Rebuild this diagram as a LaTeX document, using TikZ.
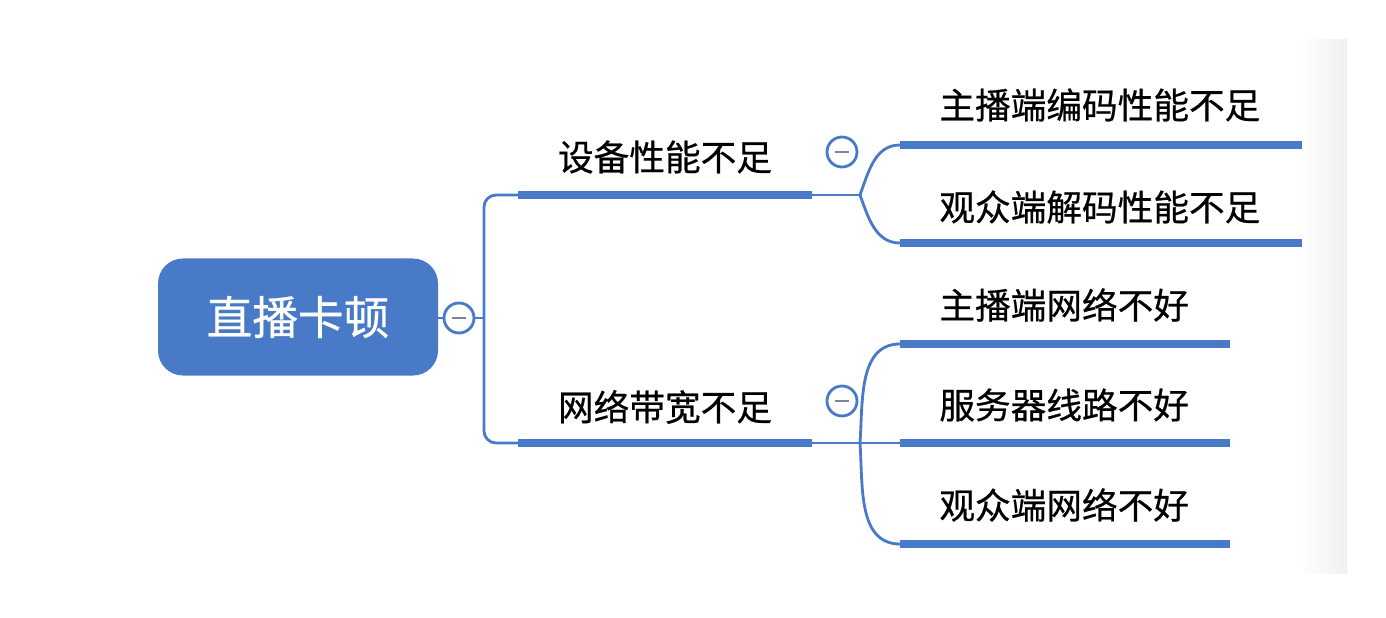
\documentclass[tikz,border=0pt]{standalone}
\usepackage{fontspec}
\newfontfamily\cjk[FakeBold=0.6]{Noto Sans CJK SC}
\usetikzlibrary{positioning}
\definecolor{mapblue}{RGB}{72,122,200}
\definecolor{minusgray}{RGB}{128,128,160}
\tikzset{
  bar/.style={line width=4.8pt, mapblue},
  link/.style={line width=1.6pt, mapblue},
  lbl/.style={font=\cjk\fontsize{20.3}{24}\selectfont, inner sep=0pt},
  fold/.style={circle, draw=mapblue, line width=1.6pt, fill=white, minimum size=30*0.02cm, inner sep=0pt}
}
\begin{document}
\begin{tikzpicture}[x=0.02cm,y=-0.02cm]
    \useasboundingbox (0,0) rectangle (1386,618);
    \shade[left color=white, right color=black!6] (1300,40) rectangle (1347,573);
    \node[fill=mapblue, rounded corners=25*0.02cm, minimum width=280*0.02cm, minimum height=117*0.02cm,
      text=white, font=\cjk\fontsize{26}{30}\selectfont] (root) at (298,317) {直播卡顿};
    \node[fold] (f0) at (459,318) {};
    \node[fold] (f1) at (842,152) {};
    \node[fold] (f2) at (842,401) {};
    \foreach \f in {f0,f1,f2}{
    \draw[minusgray, line width=1.7pt] ([xshift=-0.14cm]\f.center)--([xshift=0.14cm]\f.center);}
    % branch labels and bars
    \node[lbl] (dev) at (665,157) {设备性能不足};
    \node[lbl] (net) at (665,407) {网络带宽不足};
    \coordinate (d1) at (518,195); \coordinate (d2) at (812,195);
    \coordinate (n1) at (518,443); \coordinate (n2) at (812,443);
    \draw[bar] (d1)--(d2);
    \draw[bar] (n1)--(n2);
    \draw[link] (root.east|-f0)--(f0.west);
    \draw[link, rounded corners=12*0.02cm] (d1)--(484,195)--(484,443)--(n1);
    \draw[link] (f0.east)--(484,318);
    % leaves
    \foreach \y/\b/\t/\e [count=\i] in {105/145/主播端编码性能不足/1302, 207/243/观众端解码性能不足/1302,
      305/344/主播端网络不好/1230, 405/443/服务器线路不好/1230, 505/544/观众端网络不好/1230}{
    \node[lbl, anchor=west] (t\i) at (939,\y) {\t};
    \coordinate (s\i) at (900,\b);
    \coordinate (e\i) at (\e,\b);
    \draw[bar] (s\i)--(e\i);}
    \coordinate (j1) at (860,195);
    \coordinate (j2) at (860,443);
    \draw[link] (d2)--(j1);
    \draw[link] (j1) to[out=70,in=180] (s1);
    \draw[link] (j1) to[out=-70,in=180] (s2);
    \draw[link] (n2)--(s4);
    \draw[link] (j2) to[out=86,in=180] (s3);
    \draw[link] (j2) to[out=-86,in=180] (s5);
\end{tikzpicture}
\end{document}
